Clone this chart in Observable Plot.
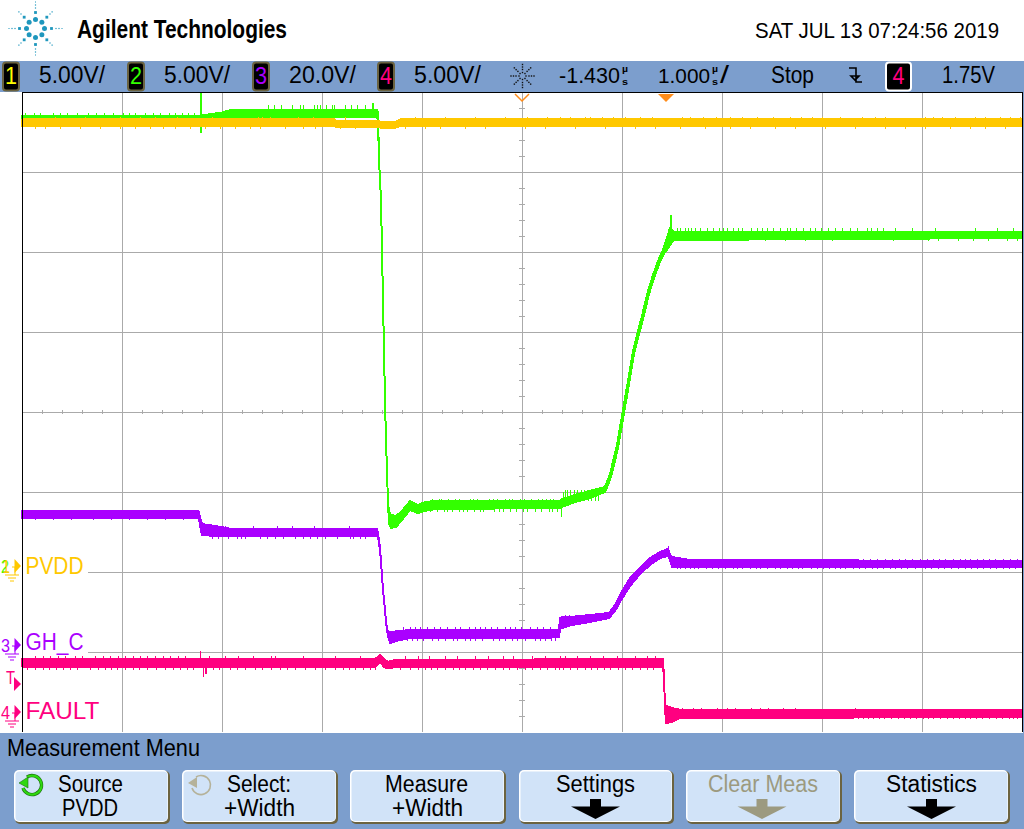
<!DOCTYPE html>
<html>
<head>
<meta charset="utf-8">
<script src="https://cdn.jsdelivr.net/npm/d3@7"></script>
<script src="https://cdn.jsdelivr.net/npm/@observablehq/plot@0.6"></script>
<style>
html,body{margin:0;padding:0;background:#fff;overflow:hidden}
#page{position:relative;width:1024px;height:829px;overflow:hidden}
#scope{position:absolute;left:0;top:92px;width:1024px;height:640px}
#scope svg{shape-rendering:crispEdges}
#chrome{position:absolute;left:0;top:0;z-index:2;pointer-events:none}
</style>
</head>
<body>
<div id="page"><div id="scope"></div><svg id="chrome" width="1024" height="829"></svg></div>
<script>
// Time in µs relative to the trigger; volts per channel.
const timeDomain = [-6.43, 3.57];
const divTimes = [-6.43,-5.43,-4.43,-3.43,-2.43,-1.43,-0.43,0.57,1.57,2.57,3.57];
const divLevels = [-4,-3,-2,-1,0,1,2,3,4];
const delayTime = -1.43;

const greenT  = [-6.43,-4.67,-4.43,-4.33,-2.88,-2.87,-2.86,-2.84,-2.82,-2.80,-2.79,-2.78,-2.77,-2.76,-2.74,-2.69,-2.63,-2.55,-2.47,-2.40,-2.30,-1.05,-1.03,-0.90,-0.72,-0.60,-0.55,-0.48,-0.42,-0.37,-0.32,-0.27,-0.23,-0.17,-0.12,-0.07,-0.02,0.02,0.05,0.09,3.57];
const greenHi = [28.13,28.13,28.34,28.53,28.53,28.38,25.38,22.88,16.63,10.38,7.88,5.88,4.00,3.38,3.19,3.13,3.44,4.06,3.81,4.00,4.06,4.06,4.19,4.44,4.75,4.94,5.75,7.56,9.75,11.56,13.44,14.69,15.63,17.19,18.19,19.06,19.75,20.50,21.13,20.88,20.88];
const greenLo = [27.81,27.81,27.81,28.06,28.06,27.88,25.38,22.88,16.63,10.38,7.88,5.88,4.00,2.63,2.38,2.44,2.88,3.50,3.31,3.44,3.56,3.63,3.69,4.00,4.31,4.63,5.44,7.25,9.44,11.25,13.13,14.38,15.31,16.88,17.88,18.75,19.44,19.75,20.06,20.38,20.50];
const greenRiseT = [-0.60,-0.55,-0.48,-0.42,-0.37,-0.32,-0.27,-0.23,-0.17,-0.12,-0.07,-0.02,0.02];
const greenRiseV = [4.78,5.60,7.40,9.60,11.40,13.28,14.53,15.47,17.03,18.03,18.90,19.60,20.10];

const yellowT  = [-6.43,-3.30,-3.29,-2.87,-2.83,-2.70,-2.65,3.57];
const yellowHi = [27.91,27.91,27.81,27.81,27.75,27.75,27.91,27.91];
const yellowLo = [27.50,27.50,27.44,27.44,27.38,27.38,27.50,27.50];

const purpleT  = [-6.43,-4.67,-4.66,-4.65,-4.63,-4.50,-4.33,-2.88,-2.87,-2.85,-2.84,-2.82,-2.80,-2.79,-2.77,-2.75,-2.65,-2.55,-1.06,-1.05,-1.03,-0.93,-0.75,-0.56,-0.50,-0.45,-0.35,-0.25,-0.15,-0.05,0.03,0.05,0.07,0.25,3.57];
const purpleHi = [33.50,33.50,33.25,31.75,30.25,29.75,29.00,29.00,28.00,24.25,20.75,13.75,8.75,5.75,3.25,3.25,3.50,3.75,3.75,6.75,7.00,7.00,7.50,8.00,10.00,12.50,16.75,19.25,21.75,23.25,24.00,22.50,22.00,21.25,21.00];
const purpleLo = [31.63,31.63,31.50,30.00,27.50,27.25,27.13,27.13,27.00,23.75,20.75,13.75,8.75,5.75,2.25,0.50,1.25,1.75,1.88,4.00,4.25,5.00,5.75,6.75,8.50,10.75,14.75,17.75,20.00,21.75,22.25,21.25,19.50,19.50,19.50];
const purpleRiseT = [-0.56,-0.50,-0.45,-0.35,-0.25,-0.15,-0.05,0.03];
const purpleRiseV = [7.40,9.25,11.60,15.75,18.50,20.90,22.50,23.10];

const pinkT  = [-6.43,-2.90,-2.85,-2.81,-2.77,-2.70,-0.02,-0.01,0.00,0.01,0.07,0.15,3.57];
const pinkHi = [3.31,3.31,3.56,3.31,3.13,3.25,3.31,2.13,0.38,0.38,0.25,0.13,0.13];
const pinkLo = [2.84,2.84,3.13,2.81,2.72,2.81,2.84,2.13,0.38,-0.69,-0.63,-0.38,-0.31];

// Spikes
const greenLowUp   = [-6.31,-6.12,-5.98,-5.77,-5.61,-5.42,-5.30,-5.12,-4.96,-4.83,-4.71,-6.40,-6.25,-6.05,-5.88,-5.69,-5.52,-5.36,-5.20,-5.05,-4.90,-4.77];
const greenHighUp  = [-3.97,-3.91,-3.84,-3.73,-3.65,-3.51,-3.48,-3.39,-3.33,-3.31,-3.08,-3.00,-2.93,-3.20,-3.14,-3.45,-3.62];
const greenMidUp   = [-2.33,-2.24,-2.17,-2.10,-1.95,-1.88,-1.76,-1.68,-1.60,-1.53,-1.45,-1.34,-1.27,-1.19,-1.12,-2.26,-2.06,-1.92,-1.72,-1.56,-1.41,-1.23,-1.15];
const greenMidDown = [-2.28,-2.21,-2.13,-2.02,-1.91,-1.82,-1.71,-1.62,-1.49,-1.38,-1.24,-1.16,-1.08,-2.35,-2.18,-2.06,-1.98,-1.85,-1.66,-1.55,-1.42,-1.30,-1.13];
const greenStepNoise = [-1.00,-0.98,-0.95,-0.91,-0.88,-0.84,-0.81,-0.77,-0.74,-0.70,-0.67];
const greenRightUp = [0.12,0.20,0.23,0.30,0.48,0.58,0.68,0.73,0.92,1.02,1.22,1.25,1.45,1.50,1.77,1.85,2.02,2.12,3.32,3.48,0.15,0.26,0.35,0.42,0.54,0.62,0.77,0.86,0.97,1.08,1.15,1.31,1.38,1.56,1.63,1.70,1.92,2.06,2.18,2.30,2.47,2.70,3.10];
const greenRightDown = [0.38,1.67,2.28,2.63,2.73,2.93,3.08,3.23,3.42,3.52,0.11,0.16,0.22,0.47,0.52,0.60,0.72,1.00,1.20,1.40];
const yellowUp = [-5.45,-5.10,-4.53,-4.07,-4.03,-3.95,-3.67,-3.52,-3.20,-2.50,-1.05,-0.95,-0.80,-0.75,-0.63,-0.52,-0.40,-0.25,-0.13,0.17,0.25,0.38,0.51,0.65,0.77,0.92,1.08,1.25,1.36,1.47,1.57,1.75,1.97,2.10,2.20,2.60,2.68,2.77,2.90,3.10,3.20,3.35,-6.10,-5.80,-5.25,-4.88,-2.20,-1.90,-1.60,-1.38,-1.18,3.45,3.55];
const yellowDown = [-6.20,-5.85,-5.45,-5.15,-4.90,-4.60,-4.30,-4.05,-3.50,-3.25,-3.10,-2.60,-2.00,-1.40,-0.90,-0.30,0.40,1.10,1.90,2.60,3.20,-6.30,-6.05,-5.65,-5.30,-5.02,-4.75,-4.45,-4.15,-3.80,-3.62,-2.85,-2.78,-2.72,-2.40,-2.25,-1.80,-1.20,-0.60,-0.10,0.15,0.65,0.85,1.30,1.60,2.20,2.40,2.85,3.05,3.40];
const purpleLeftUp = [-6.38,-6.20,-6.02,-5.85,-5.66,-5.44,-5.26,-5.08,-4.90,-4.74];
const purpleLeftDown = [-6.30,-6.12,-5.94,-5.72,-5.54,-5.36,-5.18,-5.00,-4.82];
const purpleMidUp = [-4.12,-3.88,-3.73,-3.51,-3.16,-4.60,-4.55,-4.48,-4.40];
const purpleMidDown = [-4.53,-4.47,-4.37,-4.20,-4.05,-3.90,-3.70,-3.55,-3.40,-3.15,-3.12,-3.00,-4.28,-4.24,-3.98,-3.82,-3.62,-3.48,-3.28,-3.05];
const purpleLowUp = [-2.62,-2.55,-2.45,-2.38,-2.25,-2.18,-2.05,-1.96,-1.85,-1.80,-1.68,-1.55,-1.44,-1.35,-1.22,-1.15,-2.50,-2.31,-2.10,-1.90,-1.74,-1.60,-1.50,-1.28];
const purpleLowDown = [-2.70,-2.58,-2.48,-2.33,-2.20,-2.12,-2.00,-1.90,-1.72,-1.60,-1.48,-1.30,-1.20,-1.10,-2.53,-2.42,-2.27,-2.08,-1.95,-1.83,-1.66,-1.53,-1.40,-1.25,-1.14];
const purpleStepNoise = [-1.00,-0.96,-0.90,-0.85,-0.79,-0.72,-0.66,-0.60];
const purpleRightUp = [0.12,0.17,0.21,0.30,0.38,0.44,0.58,0.62,0.72,0.81,0.90,0.98,1.05,1.13,1.18,1.30,1.44,1.49,1.60,1.67,1.74,1.85,1.93,2.05,2.20,2.34,2.47,2.55,2.68,2.80,2.95,3.05,3.18,3.30,3.45,0.25,0.34,0.50,0.66,0.76,0.86,1.22,1.35,1.55,1.79,1.98,2.12,2.27,2.40,2.62,2.74,2.88,3.00,3.12,3.24,3.38,3.52];
const purpleRightDown = [0.15,0.20,0.25,0.33,0.47,0.53,0.68,0.77,0.85,0.95,1.02,1.10,1.27,1.37,1.52,1.58,1.70,1.80,1.88,2.00,2.12,2.25,2.30,2.42,2.60,2.73,2.86,3.00,3.12,3.25,3.38,3.50,0.12,0.29,0.41,0.60,0.72,0.91,1.15,1.22,1.33,1.46,1.64,1.75,1.94,2.07,2.18,2.36,2.50,2.66,2.79,2.93,3.06,3.18,3.31,3.44];
const pinkUp = [-6.30,-6.15,-6.00,-5.83,-5.70,-5.55,-5.40,-5.25,-5.10,-4.95,-4.80,-4.56,-4.40,-4.27,-4.12,-3.94,-3.90,-3.62,-3.30,-3.05,-2.60,-2.47,-2.36,-2.20,-2.08,-1.90,-1.77,-1.62,-1.52,-1.33,-1.20,-1.05,-1.00,-0.88,-0.75,-0.62,-0.48,-0.30,-0.18,-0.10,-6.22,-6.07,-5.90,-5.62,-5.47,-5.32,-5.18,-5.02,-4.87];
const pinkDown = [-6.38,-6.22,-6.09,-5.95,-5.75,-5.60,-5.48,-5.32,-5.18,-5.00,-4.85,-4.72,-4.52,-4.35,-4.20,-4.03,-3.85,-3.70,-3.50,-3.22,-3.10,-2.95,-2.65,-2.55,-2.40,-2.28,-2.12,-2.00,-1.85,-1.70,-1.56,-1.40,-1.25,-1.10,-1.02,-0.95,-0.80,-0.68,-0.55,-0.40,-0.25,-0.12,-6.30,-6.16,-6.02,-5.88,-5.67,-5.54,-5.40,-5.26,-5.09,-4.92,-4.78,-4.46,-4.28,-4.10,-3.94,-3.78,-3.60,-3.40,-3.30,-3.16,-3.02,-2.90,-2.47,-2.34,-2.20,-2.06,-1.92,-1.78,-1.62,-1.48,-1.33,-1.18,-1.06,-0.88,-0.74,-0.61,-0.47,-0.33,-0.18];
const pinkRightUp = [0.09,0.13,0.17,0.28,0.36,0.52,0.62,0.70,0.86,0.95,1.03,1.18,1.30,1.90];
const pinkRightDown = [0.10,0.14,0.20,0.26,0.33,0.42,0.50,0.57,0.66,0.76,0.82,0.91,1.00,1.12,1.24,1.33,1.45,1.56,1.67,1.78,1.87,1.98,2.08,2.19,2.33,2.45,2.58,2.68,2.82,2.94,3.05,3.17,3.31,3.44,3.52,0.12,0.23,0.30,0.38,0.46,0.54,0.62,0.72,0.79,0.87,0.96,1.06,1.17,1.28,1.39,1.50,1.61,1.72,1.83,1.93,2.03,2.14,2.26,2.39,2.51,2.63,2.75,2.88,3.00,3.11,3.24,3.37,3.48];

const channelNames = ["PVDD","GH_C","FAULT"];
const labelWidths = [58,58,74];
const colors = {yellow:"#ffc800",green:"#33ff00",purple:"#aa00ff",pink:"#ff0080"};

// Vertical position of each channel on the 8-division screen
const toDiv = (gnd, vPerDiv) => v => gnd + v / vPerDiv;
const ch1 = toDiv(-1.925,5), ch2 = toDiv(-1.925,5), ch3 = toDiv(-2.9125,20), ch4 = toDiv(-3.75,5);

const band = (T,Hi,Lo,map,color) => Plot.areaY(T.map((t,i)=>({t,hi:map(Hi[i]),lo:map(Lo[i])})),
  {x:"t",y1:"lo",y2:"hi",fill:color,stroke:color,strokeWidth:2,curve:"linear"});
const spikes = (T,from,to,map,color,w=1.5) => Plot.ruleX(T,{x:d=>d,y1:()=>map(from),y2:()=>map(to),stroke:color,strokeWidth:w});
const thick = (T,V,map,color,w) => Plot.line(T.map((t,i)=>({t,v:map(V[i])})),{x:"t",y:"v",stroke:color,strokeWidth:w,curve:"linear"});

const minor = d3.range(-4,4.001,0.2);
const minorT = d3.range(-6.43,3.58,0.2);
const labelRows = [
  {name:channelNames[0],y:ch1(0),color:colors.yellow,right:-5.77},
  {name:channelNames[1],y:ch3(0)+0.03,color:colors.purple,right:-5.77},
  {name:channelNames[2],y:ch4(0)+0.01,color:colors.pink,right:-5.62}
];

const chart = Plot.plot({
  width:1024,height:640,marginLeft:22,marginRight:2,marginTop:0,marginBottom:0,
  x:{domain:timeDomain,axis:null},
  y:{domain:[-4,4],axis:null},
  style:{background:"white"},
  marks:[
    Plot.ruleX(divTimes,{x:d=>d,stroke:"#aaa",strokeWidth:1,strokeOpacity:1}),
    Plot.ruleY(divLevels,{y:d=>d,stroke:"#aaa",strokeWidth:1,strokeOpacity:1}),
    Plot.ruleY(minor,{y:d=>d,x1:delayTime-0.03,x2:delayTime+0.03,stroke:"#aaa"}),
    Plot.ruleX(minorT,{x:d=>d,y1:-0.03,y2:0.03,stroke:"#aaa"}),
    Plot.rect(labelRows,{x1:timeDomain[0]+0.005,x2:"right",y1:d=>d.y-0.15,y2:d=>d.y+0.15,fill:"white"}),

    band(greenT,greenHi,greenLo,ch2,colors.green),
    thick(greenRiseT,greenRiseV,ch2,colors.green,3),
    spikes(greenLowUp,28,28.3,ch2,colors.green),
    spikes(greenHighUp,28.4,28.8,ch2,colors.green),
    spikes([-2.93],28.4,28.95,ch2,colors.green,2),
    spikes([-4.65],27.06,29.56,ch2,colors.green,2),
    spikes(greenMidUp,4.0,4.2,ch2,colors.green),
    spikes(greenMidDown,3.6,3.35,ch2,colors.green),
    spikes(greenStepNoise,4.05,4.75,ch2,colors.green),
    spikes([-1.04],3.7,3.06,ch2,colors.green,1.5),
    spikes([-1.02],4.0,4.63,ch2,colors.green,1),
    spikes([0.05],20.5,21.94,ch2,colors.green,2),
    spikes([0.07],20.4,20.31,ch2,colors.green,1),
    spikes(greenRightUp,20.8,21.1,ch2,colors.green),
    spikes(greenRightDown,20.6,20.31,ch2,colors.green),

    band(yellowT,yellowHi,yellowLo,ch1,colors.yellow),
    spikes(yellowUp,27.8,28.06,ch1,colors.yellow),
    spikes(yellowDown,27.6,27.31,ch1,colors.yellow),

    band(purpleT,purpleHi,purpleLo,ch3,colors.purple),
    thick(purpleRiseT,purpleRiseV,ch3,colors.purple,3),
    spikes(purpleLeftUp,33,33.75,ch3,colors.purple),
    spikes(purpleLeftDown,32,31.25,ch3,colors.purple),
    spikes(purpleMidUp,28.8,29.75,ch3,colors.purple),
    spikes(purpleMidDown,27.3,26.5,ch3,colors.purple),
    spikes(purpleLowUp,3.6,4.5,ch3,colors.purple),
    spikes(purpleLowDown,2,1.1,ch3,colors.purple),
    spikes(purpleStepNoise,7,7.5,ch3,colors.purple),
    spikes([0.03],23,24.75,ch3,colors.purple,1.5),
    spikes(purpleRightUp,20.8,21.6,ch3,colors.purple),
    spikes(purpleRightDown,19.7,19,ch3,colors.purple),

    band(pinkT,pinkHi,pinkLo,ch4,colors.pink),
    spikes(pinkUp,3.2,3.5,ch4,colors.pink),
    spikes(pinkDown,2.9,2.63,ch4,colors.pink),
    spikes([-4.65],3.2,3.81,ch4,colors.pink),
    spikes([-4.62],2.9,2.19,ch4,colors.pink),
    spikes([-4.59,-4.60],2.9,2.4,ch4,colors.pink),
    spikes(pinkRightUp,0.1,0.28,ch4,colors.pink),
    spikes(pinkRightDown,-0.25,-0.44,ch4,colors.pink),

    Plot.text(labelRows,{x:timeDomain[0]+0.03,y:"y",text:"name",fill:"color",fontSize:23,textAnchor:"start",fontFamily:"Liberation Sans"}),
    Plot.frame({stroke:"black",strokeWidth:1.5})
  ]
});
document.getElementById("scope").appendChild(chart);
d3.select(chart).selectAll("text").filter(function(){return channelNames.includes(this.textContent);})
  .attr("textLength",function(){return labelWidths[channelNames.indexOf(this.textContent)];})
  .attr("lengthAdjust","spacingAndGlyphs");

// ---- Instrument chrome ----
const svg = d3.select("#chrome");
const FONT = "Liberation Sans";
function txt(s,x0,x1,base,size,fill="#000",weight="normal",family=FONT){
  svg.append("text").attr("x",x0).attr("y",base).attr("font-family",family).attr("font-size",size)
    .attr("font-weight",weight).attr("fill",fill).attr("textLength",x1-x0)
    .attr("lengthAdjust","spacingAndGlyphs").text(s);
}
const BLUE="#7c9ecd";
svg.append("rect").attr("x",0).attr("y",61).attr("width",1024).attr("height",31).attr("fill",BLUE);
svg.append("rect").attr("x",0).attr("y",733).attr("width",1024).attr("height",96).attr("fill",BLUE);
svg.append("rect").attr("x",1023).attr("y",92).attr("width",1).attr("height",641).attr("fill",BLUE);

// Logo
const logo = svg.append("g").attr("transform","translate(35.5,28.5)").attr("fill","#1f97bd");
for(let k=0;k<8;k++){
  const a=k*Math.PI/4, c=Math.cos(a), s=Math.sin(a);
  logo.append("circle").attr("cx",9*c).attr("cy",9*s).attr("r",2.5);
  logo.append("rect").attr("x",16*c-1.4).attr("y",16*s-1.4).attr("width",2.8).attr("height",2.8);
  [20.5,23.5].forEach(r=>logo.append("rect").attr("x",r*c-0.6).attr("y",r*s-0.6).attr("width",1.2).attr("height",1.2));
  if(k%2==0) logo.append("rect").attr("x",26.5*c-0.5).attr("y",26.5*s-0.5).attr("width",1).attr("height",1);
}
txt("Agilent Technologies",77,287,37.5,25,"#000","bold");
txt("SAT JUL 13 07:24:56 2019",755,999,37.5,22);

// Status bar
function badge(x,w,label,color,border){
  svg.append("rect").attr("x",x).attr("y",62.5).attr("width",w).attr("height",28).attr("rx",3).attr("fill","#000").attr("stroke",border).attr("stroke-width",2);
  txt(label,x+w/2-6,x+w/2+6,84,24,color);
}
badge(3,16,"1","#ffff00","#6b6340");
badge(128,16,"2","#33ff00","#6b6340");
badge(253,16,"3","#aa00ff","#6b6340");
badge(378,16,"4","#ff0080","#6b6340");
badge(886,25,"4","#ff0080","#ffffff");
txt("5.00V/",39,105,83,23);
txt("5.00V/",164,230,83,23);
txt("20.0V/",289,356,83,23);
txt("5.00V/",414,481,83,23);
txt("-1.430",559,620,83,21.5);
txt("µ",622,628,72,9,"#000","bold");
txt("s",622,628,85,9,"#000","bold");
txt("1.000",658,710,83,21);
txt("µ",712,718,72,9,"#000","bold");
txt("s",712,718,85,9,"#000","bold");
txt("/",720,729,83,23);
txt("Stop",771,814,83,23);
txt("1.75V",942,995,83,23);
// run / sunburst icon
const sun=svg.append("g").attr("transform","translate(522.5,76)").attr("fill","#111");
for(let k=0;k<8;k++){const a=k*Math.PI/4;[3.5,6.5,9,11.5].forEach(r=>sun.append("rect").attr("x",r*Math.cos(a)-0.7).attr("y",r*Math.sin(a)-0.7).attr("width",1.4).attr("height",1.4));}
// trigger slope icon
svg.append("path").attr("d","M849 68H856V82H862M851 76H859L855 80Z").attr("fill","none").attr("stroke","#000").attr("stroke-width",1.6);

// Orange scope markers
svg.append("path").attr("d","M515 94L522 101L529 94").attr("fill","none").attr("stroke","#ff8c1a").attr("stroke-width",1.5);
svg.append("path").attr("d","M658 94H674L666 102Z").attr("fill","#ff8c1a");

// Left-hand ground markers
function gnd(y,color){
  svg.append("path").attr("d",`M12 ${y+1}H15V${y+9}M5 ${y+9}H19M8 ${y+12}H16M10 ${y+15}H14`).attr("fill","none").attr("stroke",color).attr("stroke-width",1);
  svg.append("path").attr("d",`M14.5 ${y-7}L21 ${y}L14.5 ${y+7}Z`).attr("fill",color);
}
gnd(566,colors.yellow);
txt("2",1,9,573,18,colors.green);
txt("1",2,10,573,18,colors.yellow);
gnd(645,colors.purple);
txt("3",1,10,652,18,colors.purple);
txt("T",6,15,684,18,colors.pink);
svg.append("path").attr("d","M14 677L21 684L14 691Z").attr("fill",colors.pink);
gnd(712,colors.pink);
txt("4",1,10,719,18,colors.pink);

// Menu
txt("Measurement Menu",7,200,756,23);
const buttons=[[14,169],[182,337],[350,505],[519,673],[686,841],[854,1009]];
buttons.forEach(([a,b])=>{
  svg.append("rect").attr("x",a+1).attr("y",771).attr("width",b-a).attr("height",53).attr("rx",5).attr("fill","#6b6340");
  svg.append("rect").attr("x",a).attr("y",770).attr("width",b-a-1).attr("height",52).attr("rx",5).attr("fill","#fff");
  svg.append("rect").attr("x",a+1.5).attr("y",771.5).attr("width",b-a-3).attr("height",49.5).attr("rx",4).attr("fill","#d1e3f8");
});
txt("Source",58,123,792,23); txt("PVDD",62,118,816,23);
txt("Select:",227,291,792,23); txt("+Width",224,295,816,23);
txt("Measure",385,468,792,23); txt("+Width",392,463,816,23);
txt("Settings",556,635,792,23);
txt("Clear Meas",708,818,792,23,"#9c9a80");
txt("Statistics",886,977,792,23);
function arrow(cx,fill){
  svg.append("path").attr("d",`M${cx-5.5} 799H${cx+5.5}V806.5H${cx+24.5}L${cx} 819L${cx-24.5} 806.5H${cx-5.5}Z`).attr("fill",fill);
}
arrow(595.5,"#000"); arrow(762,"#9c9a80"); arrow(931.5,"#000");
function knob(cx,cy,stroke,w,edge){
  const d=`M${cx-5} ${cy-8}A9.5 9.5 0 1 1 ${cx-9} ${cy+3}`;
  if(edge) svg.append("path").attr("d",d).attr("fill","none").attr("stroke",edge).attr("stroke-width",w+1.2);
  svg.append("path").attr("d",d).attr("fill","none").attr("stroke",stroke).attr("stroke-width",w);
  svg.append("path").attr("d",`M${cx-13} ${cy-2}L${cx-4} ${cy-8}V${cy+3}Z`).attr("fill",stroke).attr("stroke",edge||"none").attr("stroke-width",0.6);
}
knob(32,785,"#2fd80f",2.2,"#1c6b12");
knob(201,785,"#b5b29a",1.6,null);
</script>
</body>
</html>
